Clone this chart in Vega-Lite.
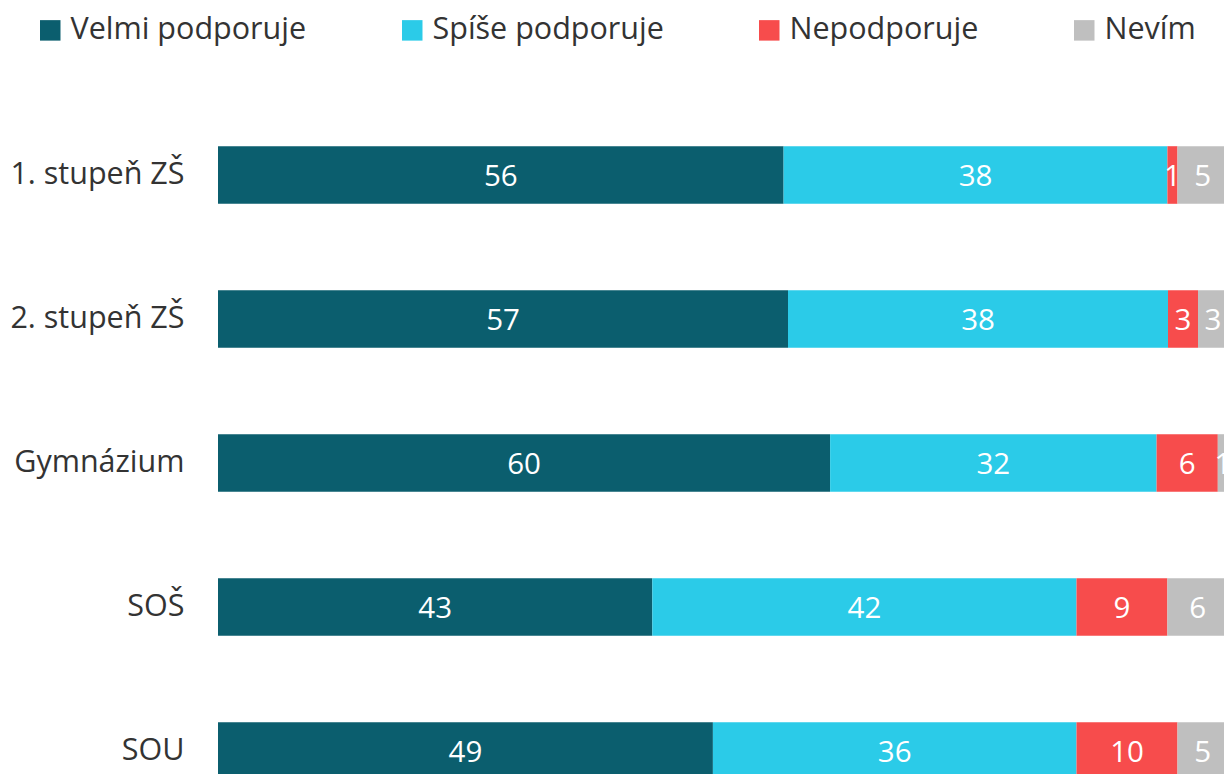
{
  "$schema": "https://vega.github.io/schema/vega-lite/v6.json",
  "autosize": "none",
  "width": 1010,
  "height": 720,
  "padding": {"left": 218, "top": 103, "right": 0, "bottom": 0},
  "background": "white",
  "config": {
    "view": {"stroke": null},
    "font": "Open Sans"
  },
  "data": {
    "values": [
      {"skola": "1. stupeň ZŠ", "kategorie": "Velmi podporuje", "poradi": 1, "hodnota": 56},
      {"skola": "1. stupeň ZŠ", "kategorie": "Spíše podporuje", "poradi": 2, "hodnota": 38},
      {"skola": "1. stupeň ZŠ", "kategorie": "Nepodporuje", "poradi": 3, "hodnota": 1},
      {"skola": "1. stupeň ZŠ", "kategorie": "Nevím", "poradi": 4, "hodnota": 5},
      {"skola": "2. stupeň ZŠ", "kategorie": "Velmi podporuje", "poradi": 1, "hodnota": 57},
      {"skola": "2. stupeň ZŠ", "kategorie": "Spíše podporuje", "poradi": 2, "hodnota": 38},
      {"skola": "2. stupeň ZŠ", "kategorie": "Nepodporuje", "poradi": 3, "hodnota": 3},
      {"skola": "2. stupeň ZŠ", "kategorie": "Nevím", "poradi": 4, "hodnota": 3},
      {"skola": "Gymnázium", "kategorie": "Velmi podporuje", "poradi": 1, "hodnota": 60},
      {"skola": "Gymnázium", "kategorie": "Spíše podporuje", "poradi": 2, "hodnota": 32},
      {"skola": "Gymnázium", "kategorie": "Nepodporuje", "poradi": 3, "hodnota": 6},
      {"skola": "Gymnázium", "kategorie": "Nevím", "poradi": 4, "hodnota": 1},
      {"skola": "SOŠ", "kategorie": "Velmi podporuje", "poradi": 1, "hodnota": 43},
      {"skola": "SOŠ", "kategorie": "Spíše podporuje", "poradi": 2, "hodnota": 42},
      {"skola": "SOŠ", "kategorie": "Nepodporuje", "poradi": 3, "hodnota": 9},
      {"skola": "SOŠ", "kategorie": "Nevím", "poradi": 4, "hodnota": 6},
      {"skola": "SOU", "kategorie": "Velmi podporuje", "poradi": 1, "hodnota": 49},
      {"skola": "SOU", "kategorie": "Spíše podporuje", "poradi": 2, "hodnota": 36},
      {"skola": "SOU", "kategorie": "Nepodporuje", "poradi": 3, "hodnota": 10},
      {"skola": "SOU", "kategorie": "Nevím", "poradi": 4, "hodnota": 5}
    ]
  },
  "transform": [
    {"stack": "hodnota", "groupby": ["skola"], "sort": [{"field": "poradi", "order": "ascending"}], "offset": "normalize", "as": ["x0", "x1"]},
    {"calculate": "(datum.x0 + datum.x1) / 2", "as": "xm"}
  ],
  "encoding": {
    "y": {
      "field": "skola",
      "type": "nominal",
      "sort": ["1. stupeň ZŠ", "2. stupeň ZŠ", "Gymnázium", "SOŠ", "SOU"],
      "scale": {"paddingInner": 0.6, "paddingOuter": 0.3},
      "axis": {
        "title": null,
        "domain": false,
        "ticks": false,
        "labelFontSize": 30.5,
        "labelColor": "#333333",
        "labelPadding": 34,
        "labelFont": "Open Sans"
      }
    }
  },
  "layer": [
    {
      "mark": {"type": "bar"},
      "encoding": {
        "x": {"field": "x0", "type": "quantitative", "scale": {"domain": [0, 1], "nice": false, "zero": true}, "axis": null},
        "x2": {"field": "x1"},
        "color": {
          "field": "kategorie",
          "type": "nominal",
          "scale": {
            "domain": ["Velmi podporuje", "Spíše podporuje", "Nepodporuje", "Nevím"],
            "range": ["#0B5E6E", "#2BCBE8", "#F74C4C", "#BFBFBF"]
          },
          "legend": {
            "title": null,
            "orient": "none",
            "direction": "horizontal",
            "columns": 4,
            "legendX": -183,
            "legendY": -88,
            "symbolType": "square",
            "symbolSize": 420,
            "symbolStrokeWidth": 0,
            "symbolOpacity": 1,
            "labelFontSize": 30.5,
            "labelColor": "#333333",
            "labelFont": "Open Sans",
            "labelOffset": 5,
            "columnPadding": 90,
            "labelLimit": 400
          }
        }
      }
    },
    {
      "mark": {"type": "text", "color": "white", "fontSize": 29.5, "font": "Open Sans", "baseline": "middle", "dy": 2},
      "encoding": {
        "x": {"field": "xm", "type": "quantitative"},
        "text": {"field": "hodnota", "type": "quantitative"}
      }
    }
  ]
}
